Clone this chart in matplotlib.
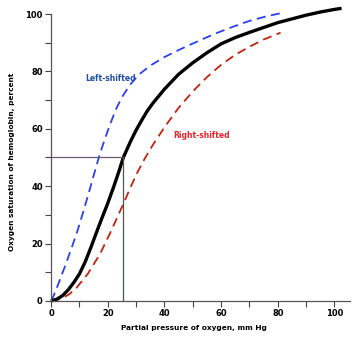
import matplotlib
matplotlib.use("Agg")
import matplotlib.pyplot as plt

# normal curve
normal_x = [0, 2, 4, 6, 8, 10, 12, 14, 16, 18, 20, 22, 24, 25.5, 28, 30, 32, 34, 36, 40, 45,
            50, 55, 60, 65, 70, 75, 80, 85, 90, 95, 100, 102.5]
normal_y = [0, 0.6, 1.8, 3.8, 6.4, 9.4, 13.5, 18.5, 23.8, 29, 34, 39.5, 45.3, 50, 55.5, 59.5,
            63, 66.3, 69, 73.8, 79, 83, 86.5, 89.6, 91.8, 93.6, 95.3, 97, 98.3, 99.6, 100.7, 101.6, 102]

# left-shifted curve
left_x = [0, 1, 2.6, 5, 7.3, 9.5, 11.4, 13.5, 15.5, 17, 19, 21, 23, 25, 28, 31, 35, 40, 46,
          52, 58, 64, 70, 76, 82]
left_y = [0, 2, 6, 12.3, 18.6, 25, 31.2, 38.3, 45.3, 50.5, 56.5, 62, 67, 71, 75.5, 78.9, 82,
          85, 87.9, 90.6, 93.2, 95.5, 97.6, 99.2, 100.5]

# right-shifted curve
right_x = [0, 2, 4, 6.5, 9, 13, 17.3, 21, 25.5, 28, 30.3, 33, 36, 40, 45, 50, 55, 60, 65,
           70, 75, 81]
right_y = [0, 0.3, 1, 2.4, 4.6, 9.5, 16.4, 24, 33.8, 39.5, 44.5, 49.5, 54.5, 60.5, 67.3, 73,
           78, 82.3, 85.8, 88.6, 91.1, 93.5]

p50_x = 25.5
p50_y = 50

fig = plt.figure(figsize=(3.62, 3.42), dpi=100)
ax = fig.add_axes([0.141, 0.12, 0.826, 0.839])

ax.plot(left_x, left_y, color='#2b3ff0', lw=1.3, dashes=(5, 3), clip_on=False)
ax.plot(right_x, right_y, color='#c3220e', lw=1.3, dashes=(5, 3), clip_on=False)
ax.plot(normal_x, normal_y, color='black', lw=2.4, solid_capstyle='butt', clip_on=False)

# guide lines at P50
ax.plot([0, p50_x], [p50_y, p50_y], color='#6a5a72', lw=0.9)
ax.plot([p50_x, p50_x], [0, p50_y], color='#4a584a', lw=0.9)

ax.text(12, 77.5, 'Left-shifted', color='#1f4fa8', fontsize=5.5, fontweight='bold', va='center')
ax.text(43, 57.8, 'Right-shifted', color='#e8232a', fontsize=5.5, fontweight='bold', va='center')

ax.set_xlim(0, 105.5)
ax.set_ylim(0, 100)
ax.set_xticks([0, 20, 40, 60, 80, 100])
ax.set_xticks([10, 30, 50, 70, 90], minor=True)
ax.set_yticks([0, 20, 40, 60, 80, 100])
ax.set_yticks([10, 30, 50, 70, 90], minor=True)
ax.tick_params(which='both', direction='out', length=4, width=0.8, color='#444444',
               labelsize=6.0, pad=2)
for lab in ax.get_xticklabels() + ax.get_yticklabels():
    lab.set_fontweight('bold')

for s in ['top', 'right']:
    ax.spines[s].set_visible(False)
for s in ['left', 'bottom']:
    ax.spines[s].set_color('#555555')
    ax.spines[s].set_linewidth(0.9)

ax.set_xlabel('Partial pressure of oxygen, mm Hg', fontsize=5.3, fontweight='bold')
ax.set_ylabel('Oxygen saturation of hemoglobin, percent', fontsize=5.3, fontweight='bold')
ax.xaxis.set_label_coords(0.477, -0.085)
ax.yaxis.set_label_coords(-0.12, 0.484)

fig.savefig('out.png', dpi=100)
